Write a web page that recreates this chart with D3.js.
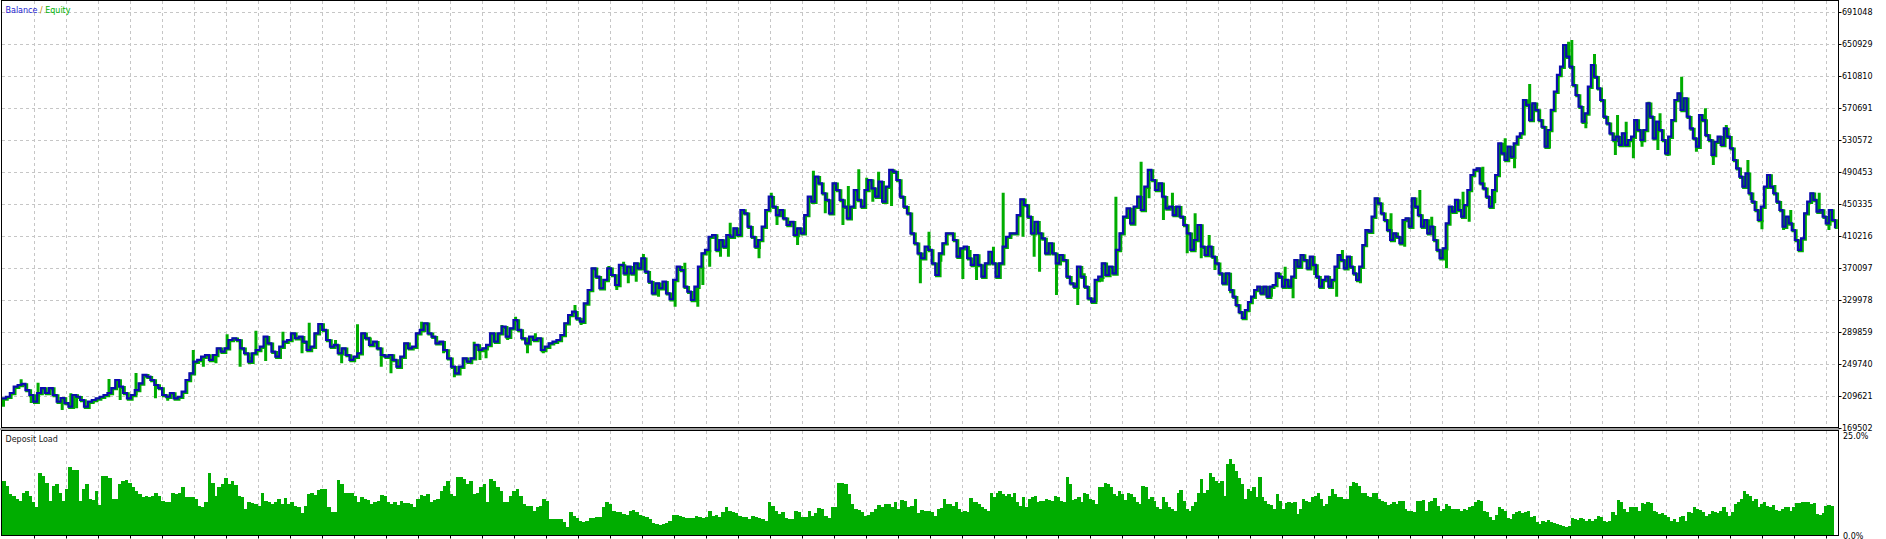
<!DOCTYPE html>
<html><head><meta charset="utf-8">
<script src="https://cdn.jsdelivr.net/npm/d3@7/dist/d3.min.js"></script>
<style>html,body{margin:0;padding:0;background:#fff;overflow:hidden}svg{display:block}</style>
</head><body><svg id="chart" width="1886" height="539"></svg>
<script>
// ---------------- DATA (values in thousands of account currency) ----------------
// trade-number spans covered by each block of balance readings
const balanceSpan1 = [0, 171.3];
const balanceSpan2 = [171.6, 340.8];
const balanceSpan3 = [341.7, 509];
const balance1 = [
206.7,208.7,213.4,221.3,223.4,224.7,217.1,210.9,202.5,213.4,
219.6,213.4,219.6,210.9,202.5,207.1,200.8,196.2,210.9,208.7,
204.6,196.2,202.5,204.6,206.7,208.7,210.9,213.4,219.6,229.7,
221.3,213.4,206.7,210.9,217.1,225.5,236.0,233.8,229.7,223.4,
219.6,210.9,208.7,213.4,206.7,208.7,215.0,229.7,238.1,252.6,
254.8,258.9,261.0,254.8,261.0,269.4,265.2,269.4,279.8,282.0,
279.8,269.4,263.2,252.6,263.2,267.3,271.4,284.0,275.7,265.2,
258.9,271.4,277.7,279.8,288.2,282.0,284.0,277.7,267.3,271.4,
288.2,299.9,292.4,279.8,271.4,273.6,263.2,269.4,261.0,254.8,
258.9,263.2,288.2,282.0,273.6,277.7,269.4,261.0,258.9,261.0,
254.8,246.4,258.9,275.7,269.4,271.4,288.2,292.4,300.8,288.2,
284.0,275.7,277.7,267.3,256.9,246.4,238.1,246.4,256.9,252.6,
256.9,273.6,267.3,269.4,273.6,288.2,277.7,288.2,296.5,284.0,
294.5,304.9,292.4,282.0,275.7,284.0,279.8,282.0,267.3,271.4,
275.7,277.7,279.8,286.1,300.8,311.2,315.3,307.0,302.8,325.8,
342.5,369.7,359.2,344.7,355.1,369.7,361.3,348.8,373.9];
const balance2 = [
373.9,363.4,371.7,363.4,376.0,369.7,382.3,365.5,352.9,338.4,
350.9,344.7,352.9,338.4,330.9,355.1,371.7,367.6,346.7,340.4,
330.0,346.7,371.7,388.5,392.7,409.3,411.5,392.7,405.2,396.8,
411.5,409.3,419.9,411.5,442.8,438.7,421.9,409.3,396.8,405.2,
421.9,442.8,459.5,447.0,436.5,442.8,432.4,424.0,428.1,411.5,
419.9,413.6,436.5,459.5,453.2,484.6,476.3,463.8,455.4,438.7,
476.3,467.9,455.4,447.0,432.4,447.0,467.9,455.4,447.0,467.9,
480.4,470.0,459.5,478.3,453.2,472.0,493.0,490.8,480.4,459.5,
447.0,438.7,413.6,401.1,388.5,382.3,396.8,392.7,376.0,361.3,
388.5,401.1,413.6,413.6,405.2,384.3,394.8,396.8,382.3,373.9,
386.4,373.9,359.2,376.0,390.5,376.0,359.2,376.0,396.8,409.3,
413.6,413.6,436.5,456.2,449.1,434.4,413.6,428.1,413.6,407.3,
388.5,401.1,388.5,376.0,386.4,380.1,359.2,350.9,346.7,371.7,
359.2,346.7,332.1,327.9,355.1,359.2,376.0,361.3,371.7,363.4,
392.7,413.6,434.4,444.9,426.1,447.0,459.5,442.8,472.0,493.0,
480.4,467.9,476.3,459.5,444.9,447.0,436.5,447.0,434.4,424.0,
413.6,392.7,405.2,424.0,396.8,386.4,396.8,384.3,376.0,363.4,
350.9,363.4,342.5];
const balance3 = [
334.1,323.7,314.9,307.4,317.4,327.5,
334.1,342.5,346.7,338.4,346.7,334.1,346.7,348.8,363.4,359.2,
346.7,355.1,346.7,359.2,380.1,371.7,386.4,380.1,369.7,384.3,
373.9,359.2,346.7,355.1,359.2,346.7,355.1,371.7,386.4,380.1,
369.7,384.3,371.7,363.4,355.1,371.7,398.9,417.7,415.6,434.4,
457.5,451.2,438.7,430.3,417.7,405.2,413.6,409.3,401.1,430.3,
432.4,421.9,457.5,447.0,436.5,421.9,430.3,413.6,421.9,405.2,
392.7,382.3,394.8,426.1,447.0,440.7,455.4,442.8,434.4,449.1,
467.9,486.7,493.0,495.1,476.3,470.0,459.5,447.0,467.9,486.7,
526.4,513.9,505.5,522.2,509.6,526.4,534.7,539.0,580.7,574.5,
555.6,576.6,568.2,555.6,547.2,522.2,543.1,568.2,591.1,612.1,
622.5,649.7,635.0,622.5,599.5,587.0,572.3,553.5,564.0,597.4,
624.6,609.9,595.4,580.7,559.8,551.5,539.0,530.6,534.7,524.3,
539.0,524.3,530.6,534.7,555.6,543.1,530.6,543.1,576.6,559.8,
532.7,553.5,543.1,530.6,513.9,534.7,555.6,580.7,589.1,568.2,
582.9,559.8,545.2,532.7,522.2,561.9,555.6,536.8,530.6,511.8,
528.4,534.7,524.3,545.2,534.7,520.2,505.5,495.1,484.6,472.0,
488.8,463.8,453.2,442.8,430.3,447.0,472.0,486.7,472.0,463.8,
453.2,442.8,421.9,434.4,426.1,417.7,405.2,392.7,407.3,438.7,
453.2,463.8,455.4,440.7,442.8,434.4,426.1,442.8,430.3,419.9];

// equity excursions: [trade number, equity value]
const equitySpikes = [
[0,196.2],[4.9,230.6],[7.7,200.8],[9.6,226.3],[16.3,192.1],[18.7,213.0],[20.3,194.2],[24.9,200.5],[29.3,230.9],[32.4,204.6],
[36.8,238.5],[40.1,237.2],[42.2,206.7],[45.6,203.7],[52.7,267.3],[55.5,246.4],[59.0,250.6],[62.1,287.0],[65.7,246.4],[68.4,258.9],
[70.1,291.5],[72.8,253.5],[75.6,263.2],[77.6,290.2],[82.9,263.2],[84.9,301.5],[92.2,279.8],[93.9,250.6],[98.3,299.5],[101.6,284.0],
[104.9,246.4],[107.6,238.1],[111.5,258.9],[116.1,302.8],[122.2,263.2],[125.2,233.1],[130.7,277.7],[132.3,254.8],[134.0,256.9],[138.4,298.6],
[140.0,279.8],[142.2,309.0],[145.5,263.2],[147.7,288.2],[149.9,263.2],[154.5,277.7],[158.7,323.7],[160.4,298.6],[166.4,342.5],[168.1,372.6],
[170.3,342.5],[172.2,378.0],[173.5,350.9],[175.7,352.9],[177.7,387.7],[181.9,334.1],[186.5,321.6],[189.2,376.7],[192.8,321.6],[194.2,348.8],
[196.1,371.7],[199.1,384.3],[201.3,384.3],[201.8,426.9],[209.8,382.3],[213.2,464.5],[214.8,424.0],[220.5,398.9],[224.9,492.1],[228.2,438.7],
[233.1,424.0],[234.6,472.9],[237.5,493.8],[239.7,483.3],[241.4,453.2],[243.0,490.8],[246.6,447.8],[254.6,350.9],[257.0,415.6],[260.3,378.0],
[262.0,398.9],[266.4,356.3],[268.4,392.7],[270.2,355.1],[274.9,396.8],[277.6,464.5],[283.1,409.3],[286.2,384.3],[287.7,365.5],[292.4,336.3],
[294.1,378.0],[298.3,323.7],[300.1,363.4],[303.4,352.9],[305.1,352.9],[308.9,459.5],[310.4,413.6],[315.9,503.4],[318.1,457.5],[322.1,430.3],
[324.6,464.5],[328.7,388.5],[330.9,438.7],[332.6,382.3],[334.8,411.5],[336.4,367.6],[340.8,338.4],[352.1,334.1],[355.9,371.7],[358.1,332.1],
[364.1,361.3],[370.2,334.1],[371.8,392.7],[376.8,350.9],[380.1,424.0],[385.3,438.7],[389.1,396.8],[393.3,467.9],[396.6,434.4],[400.7,369.7],
[405.3,465.8],[407.0,428.1],[410.8,497.1],[414.1,451.2],[417.0,532.7],[419.6,495.1],[423.8,600.8],[429.3,520.2],[434.6,653.8],[435.5,655.9],
[439.4,545.2],[441.8,638.4],[447.6,511.8],[448.2,561.9],[450.6,553.5],[452.6,507.6],[455.0,522.2],[456.9,578.6],[459.4,518.0],[460.0,564.0],
[462.2,510.5],[466.0,609.9],[470.1,515.9],[472.6,570.3],[474.8,499.2],[478.4,549.4],[484.4,505.5],[485.3,455.4],[488.3,418.6],[491.9,474.2],
[494.3,417.7],[496.3,442.8],[497.6,411.5],[499.3,390.5],[504.2,464.5],[506.9,417.7]];

// deposit load, percent
const depositSpan1 = [0, 260.5];
const depositSpan2 = [260.5, 508.5];
const deposit1 = [
13.75,12.5,10.4,10,9.2,8.75,10.8,11.25,10,8.3,7.25,15.6,15,13.3,8.75,12.5,12.9,10.8,8.75,11.7,
17.25,16.4,16.4,8.75,11.7,12.9,9.2,9,11.1,7.75,15,15,14.4,9.2,9.2,12.9,13.75,13.9,13.1,12.1,
11.25,10.4,9.6,10,9.6,10,10.8,10,8.75,8.3,8.3,10.8,10.4,10.8,12.1,9.6,9.75,9.6,9.2,7.5,
7.25,8.3,15.8,13.1,10,12.1,12.9,14.4,12.9,13.6,12.75,10,9.75,6.7,8.3,8.1,7.9,7.5,10.8,8.75,
8.3,7.9,8.3,9.2,7.9,9.4,7.9,8.3,7.5,7.1,5.6,7.5,10.4,10.8,10.25,11.4,11.7,11.7,7.1,5.8,
5.8,13.9,12.9,10.6,10.6,10.8,10,8.3,9.75,9.2,9,7.9,8.3,8.6,10.25,10,8.3,7.9,8.3,7.75,
8.75,8.1,8.1,7.9,7.1,9.2,10.25,10,10.4,8.3,9,9.2,11.25,12.5,13.75,10.4,10,14.75,14.6,14.2,
12.9,13.75,10.4,10.6,12.1,12.9,8.3,14.2,13.75,12.1,11.25,8.3,8.3,10,11.25,11.7,10,7.9,7.5,7.5,
6.25,7.1,7.5,9.2,8.75,4.2,4.2,4.2,4.2,3.3,2.1,5.8,5,4.4,3.75,3.3,3.75,4.4,4.4,4.6,
4.6,7.25,8.3,7.9,6.25,5.8,5.8,5.4,5.25,6.25,6.4,5.8,5.25,5,4.6,4.2,3.1,2.9,2.75,2.9,
3.1,3.75,5.25,5.25,5,4.75,4.4,4.4,4.4,5,4.6,4.4,4.6,6.25,5,5.25,4.75,5.8,7.1,6.25,
5.8,5.6,5,4.6,4.6,4.2,5,4.75,4.4,4.2,3.75,8.3,7.5,6.25,5.4,5.8,4.4,4.2,4.2,6.1,
5.8,4.75,4.6,6.1,5,5.6,6.9,6.7,5,4.4,7.1,7.1,13.3,13.1,12.9,10.4,7.9,6.7,6.4,5.8,
5,5.25,5.8,6.7,7.75,7.25,7.9,7.9,7.1,8.3,6.7,9,8.6,7.25,7.5,9.2,5.6,6.4,6.25,6.25,
5.8,5,6.7];
const deposit2 = [
6.9,9.2,7.9,7.9,7.5,8.3,6.7,5.8,6.1,5.8,9.4,8.3,8.3,7.9,7.1,6.7,6.25,10.6,9.75,10.8,
11.25,10.4,10,10.4,9.6,10.6,8.3,7.5,9.6,7.25,9.2,9.75,10,8.3,8.75,8.75,9.2,9,8.75,10,
9.75,8.75,8.3,14.75,12.9,9,9.2,9.6,8.3,10.6,10.4,9.2,9,7.9,12.1,12.25,13.3,12.9,12.1,10.4,
10,11.25,10.4,9,10.6,10.4,9.6,8.3,7.9,12.5,12.1,9.2,9.6,8.75,7.1,6.7,9.75,8.3,7.1,6.7,
6.25,10.8,11.4,8.75,6.7,6.25,7.5,8.3,10.8,14.2,10.8,11.4,15.6,14.6,13.6,13.3,13.75,10,17.9,19.2,
17.9,16.25,14.4,12.9,9.2,11.7,11.25,12.1,9.6,14.75,9.6,8.75,7.9,7.75,6.7,10.4,8.6,6.7,8.1,8.3,
8.1,8.3,5.4,6.7,9.2,8.75,8.3,9.6,10,10.6,9.2,7.5,7.9,10,11.7,10.4,9.75,9.6,9.2,9.2,
12.5,13.5,13.3,12.5,10.8,10.6,10,9.6,10.6,10.8,9.2,8.6,8.3,7.75,7.9,8.3,7.9,8.75,8.6,6.7,
6.25,6.1,5.8,8.75,8.75,9,6.25,8.3,8.6,9.4,7.5,6.25,6.7,7.9,7.5,6.7,6.7,6.7,6.25,6.7,
6.4,7.1,7.5,8.3,9,8.75,6.25,5.8,4.6,3.9,5.25,7.1,6.7,6.25,4.4,4.2,5.4,5.8,6.1,5.6,
5.8,6.1,4.75,5,3.3,2.9,3.6,3.3,3.9,3.3,3.1,2.9,2.75,2.5,2.25,2.5,4.4,4.2,3.9,4.4,
4.2,3.75,4.2,3.75,4.2,5,4.6,3.75,3.3,3.75,5.8,5.25,9,8.3,6.7,5.8,7.1,7.25,7.1,6.25,
8.1,7.9,8.3,8.1,6.1,5.8,5.4,5.6,5.25,4.6,3.75,4.2,3.3,4.6,5,3.75,5.8,5.6,7.1,6.7,
6.4,5.8,5,5.4,6.1,5.8,5.6,6.25,7.1,5.8,5,5.8,7.9,8.3,9.2,11.25,10.4,10,8.75,9.2,
7.1,7.9,8.3,7.5,7.25,7.75,6.4,6.25,6.7,7.1,7.25,6.25,7.1,8.1,8.2,8.3,8.3,8.3,7.9,8.1,
5.4,5.25,5.6,7.5,7.75,7.5];

// axis tick values (thousands) and their labels
const yTickValues = [169.502,209.621,249.740,289.859,329.978,370.097,410.216,450.335,490.453,530.572,570.691,610.810,650.929,691.048];
const yTickLabels = ["169502","209621","249740","289859","329978","370097","410216","450335","490453","530572","570691","610810","650929","691048"];
const depositTickValues = [0, 25];
const depositTickLabels = ["0.0%", "25.0%"];

// ---------------- LAYOUT ----------------
const svg = d3.select("#chart");
const L = 1.5, R = 1838.5;
const mainTop = 0.5, mainBot = 427.5;
const depTop = 430.5, depBot = 535.5;
const FONT = "DejaVu Sans, Verdana, sans-serif";
const BLUE = "#0c0cae", GREEN = "#00ad00", GRID = "#c6c6c6";

const x = d3.scaleLinear().domain([0, 509]).range([2, 1835]);
const y = d3.scaleLinear().domain([169.502, 691.048]).range([428, 12]);
const yd = d3.scaleLinear().domain([0, 25]).range([535.5, 436]);

svg.append("rect").attr("width", 1886).attr("height", 539).attr("fill", "#fff");

// clip paths
const defs = svg.append("defs");
defs.append("clipPath").attr("id", "cm").append("rect").attr("x", L).attr("y", mainTop).attr("width", R - L).attr("height", mainBot - mainTop);
defs.append("clipPath").attr("id", "cd").append("rect").attr("x", L).attr("y", depTop).attr("width", R - L).attr("height", depBot - depTop);

// vertical grid (both panels)
const gx = d3.range(34.5, R - 4, 32);
const grid = svg.append("g").attr("stroke", GRID).attr("stroke-dasharray", "3,3").attr("stroke-width", 1).attr("shape-rendering", "crispEdges");
gx.forEach(v => {
  grid.append("line").attr("x1", v).attr("x2", v).attr("y1", mainTop).attr("y2", mainBot);
  grid.append("line").attr("x1", v).attr("x2", v).attr("y1", depTop).attr("y2", depBot);
});
// horizontal grid (main panel)
yTickValues.forEach(v => {
  const yy = Math.round(y(v)) + 0.5;
  if (yy < mainBot - 1) grid.append("line").attr("x1", L).attr("x2", R).attr("y1", yy).attr("y2", yy);
});

// ---------------- MAIN PANEL ----------------
function toPts(arr, span) {
  const n = arr.length;
  return arr.map((v, i) => ({ t: span[0] + i * (span[1] - span[0]) / (n - 1), v }));
}
const pts = [...toPts(balance1, balanceSpan1), ...toPts(balance2, balanceSpan2), ...toPts(balance3, balanceSpan3)];
const bis = d3.bisector(d => d.t).right;
function balAt(t) { const i = Math.max(0, bis(pts, t) - 1); return pts[i].v; }

const gm = svg.append("g").attr("clip-path", "url(#cm)");
const stepLine = d3.line().x(d => x(d.t)).y(d => y(d.v)).curve(d3.curveStepAfter);

// equity: line underneath with excursions
gm.append("path").datum(pts).attr("d", stepLine).attr("fill", "none")
  .attr("stroke", GREEN).attr("stroke-width", 3).attr("transform", "translate(1.3,0.8)");
gm.append("g").selectAll("line").data(equitySpikes).join("line")
  .attr("x1", d => x(d[0]) + 1.5).attr("x2", d => x(d[0]) + 1.5)
  .attr("y1", d => y(balAt(d[0]))).attr("y2", d => y(d[1]))
  .attr("stroke", GREEN).attr("stroke-width", 3);
// balance
gm.append("path").datum(pts).attr("d", stepLine).attr("fill", "none")
  .attr("stroke", BLUE).attr("stroke-width", 2.2).attr("stroke-linejoin", "miter");

// ---------------- DEPOSIT PANEL ----------------
const gd = svg.append("g").attr("clip-path", "url(#cd)").attr("shape-rendering", "crispEdges");
function drawBars(arr, span) {
  const step = (span[1] - span[0]) / arr.length;
  const wpx = x(span[0] + step) - x(span[0]);
  gd.append("g").selectAll("rect").data(arr).join("rect")
    .attr("x", (d, i) => x(span[0] + i * step))
    .attr("width", wpx + 0.35)
    .attr("y", d => yd(d))
    .attr("height", d => yd(0) - yd(d))
    .attr("fill", GREEN);
}
drawBars(deposit1, depositSpan1);
drawBars(deposit2, depositSpan2);

// ---------------- FRAMES ----------------
svg.append("rect").attr("x", L).attr("y", mainTop).attr("width", R - L).attr("height", mainBot - mainTop)
  .attr("fill", "none").attr("stroke", "#000").attr("stroke-width", 1);
svg.append("rect").attr("x", 0).attr("y", mainBot + 0.5).attr("width", R + 1).attr("height", depTop - mainBot - 1).attr("fill", "#a0a0a0");
svg.append("rect").attr("x", L).attr("y", depTop).attr("width", R - L).attr("height", depBot - depTop)
  .attr("fill", "none").attr("stroke", "#000").attr("stroke-width", 1);

// bottom ticks
svg.append("g").attr("stroke", "#000").selectAll("line").data(gx).join("line")
  .attr("x1", d => d).attr("x2", d => d).attr("y1", depBot).attr("y2", depBot + 3);

// ---------------- AXIS LABELS ----------------
const ya = svg.append("g").attr("font-family", FONT).attr("font-size", 8).attr("fill", "#000");
yTickValues.forEach((v, i) => {
  const yy = Math.round(y(v)) + 0.5;
  ya.append("line").attr("x1", R).attr("x2", R + 3).attr("y1", yy).attr("y2", yy).attr("stroke", "#000");
  ya.append("text").attr("x", 1842).attr("y", yy).attr("dy", "0.35em").text(yTickLabels[i]);
});
depositTickValues.forEach((v, i) => {
  const yy = v === 0 ? 535.7 : 435.7;
  ya.append("text").attr("x", 1843).attr("y", yy).attr("dy", "0.35em").text(depositTickLabels[i]);
});

// titles
const t1 = svg.append("text").attr("x", 5.5).attr("y", 12.5).attr("font-family", FONT).attr("font-size", 8);
t1.append("tspan").attr("fill", "#1a1ad0").text("Balance");
t1.append("tspan").attr("fill", "#c08000").text(" / ");
t1.append("tspan").attr("fill", "#00b000").text("Equity");
svg.append("text").attr("x", 5.5).attr("y", 441.5).attr("font-family", FONT).attr("font-size", 8)
  .attr("fill", "#202020").text("Deposit Load");
</script></body></html>
